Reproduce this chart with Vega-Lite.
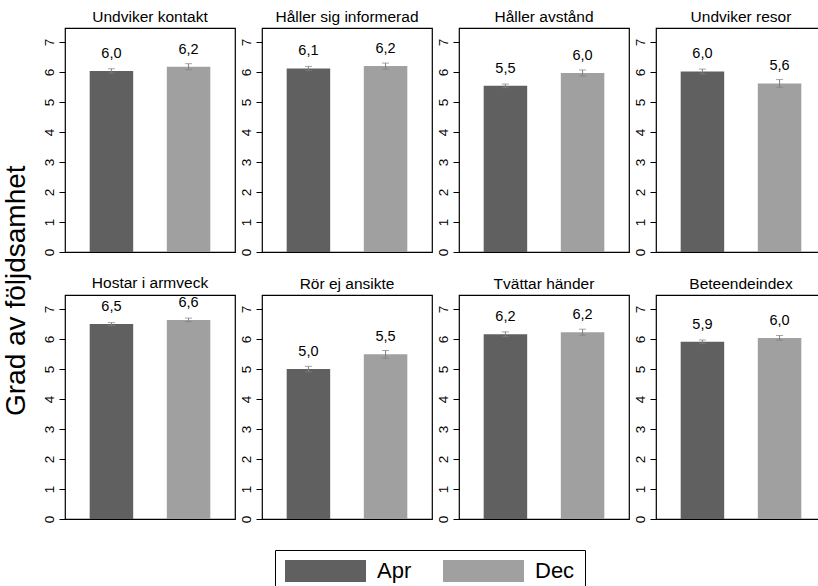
{
  "$schema": "https://vega.github.io/schema/vega-lite/v6.json",
  "padding": {"left": 3, "top": 8, "right": 0, "bottom": 0},
  "background": "white",
  "title": {"text": "Grad av följdsamhet", "orient": "left", "anchor": "middle", "fontSize": 28, "font": "Liberation Sans", "fontWeight": "normal", "color": "black", "offset": 10, "dx": 10},
  "config": {
    "locale": {"number": {"decimal": ",", "thousands": " ", "grouping": [3], "currency": ["", " kr"]}},
    "view": {"stroke": "black", "strokeWidth": 1.2},
    "font": "Liberation Sans"
  },
  "data": {"values": [
    {"panel": "Undviker kontakt", "series": "Apr", "value": 6.04, "err": 0.07},
    {"panel": "Undviker kontakt", "series": "Dec", "value": 6.18, "err": 0.1},
    {"panel": "Håller sig informerad", "series": "Apr", "value": 6.12, "err": 0.07},
    {"panel": "Håller sig informerad", "series": "Dec", "value": 6.2, "err": 0.1},
    {"panel": "Håller avstånd", "series": "Apr", "value": 5.54, "err": 0.06},
    {"panel": "Håller avstånd", "series": "Dec", "value": 5.97, "err": 0.1},
    {"panel": "Undviker resor", "series": "Apr", "value": 6.02, "err": 0.08},
    {"panel": "Undviker resor", "series": "Dec", "value": 5.62, "err": 0.13},
    {"panel": "Hostar i armveck", "series": "Apr", "value": 6.5, "err": 0.05},
    {"panel": "Hostar i armveck", "series": "Dec", "value": 6.64, "err": 0.06},
    {"panel": "Rör ej ansikte", "series": "Apr", "value": 5.0, "err": 0.09},
    {"panel": "Rör ej ansikte", "series": "Dec", "value": 5.49, "err": 0.13},
    {"panel": "Tvättar händer", "series": "Apr", "value": 6.16, "err": 0.08},
    {"panel": "Tvättar händer", "series": "Dec", "value": 6.23, "err": 0.1},
    {"panel": "Beteendeindex", "series": "Apr", "value": 5.91, "err": 0.06},
    {"panel": "Beteendeindex", "series": "Dec", "value": 6.04, "err": 0.08}
  ]},
  "facet": {
    "field": "panel", "type": "nominal",
    "sort": ["Undviker kontakt", "Håller sig informerad", "Håller avstånd", "Undviker resor", "Hostar i armveck", "Rör ej ansikte", "Tvättar händer", "Beteendeindex"],
    "header": {"title": null, "labelFontSize": 15.5, "labelFont": "Liberation Sans", "labelColor": "black", "labelPadding": 3}
  },
  "columns": 4,
  "spacing": {"row": 43, "column": 27},
  "bounds": "flush",
  "resolve": {"axis": {"y": "independent"}},
  "spec": {
    "width": 170,
    "height": 224,
    "encoding": {
      "x": {"field": "series", "type": "nominal", "sort": ["Apr", "Dec"], "axis": null,
            "scale": {"paddingInner": 0.436, "paddingOuter": 0.32}},
      "y": {"field": "value", "type": "quantitative",
            "scale": {"domain": [0, 7.47], "nice": false, "zero": true},
            "axis": {"title": null, "values": [0, 1, 2, 3, 4, 5, 6, 7], "grid": false, "domain": false,
                     "tickSize": 6, "tickColor": "black", "labelColor": "black", "labelFontSize": 13.5,
                     "labelFont": "Liberation Sans", "labelAngle": -90, "labelAlign": "center",
                     "labelBaseline": "bottom", "labelPadding": 3}}
    },
    "layer": [
      {
        "mark": {"type": "bar"},
        "encoding": {
          "color": {"field": "series", "type": "nominal",
                    "scale": {"domain": ["Apr", "Dec"], "range": ["#606060", "#a0a0a0"]},
                    "legend": {"title": null, "orient": "none", "direction": "horizontal",
                               "legendX": 210, "legendY": 522,
                               "symbolType": "M-1,-1H6.364V1H-1Z", "symbolSize": 484,
                               "symbolStrokeWidth": 0, "symbolOpacity": 1,
                               "labelOffset": 70, "labelFontSize": 22, "labelFont": "Liberation Sans",
                               "labelColor": "black", "columnPadding": 31,
                               "padding": 10, "strokeColor": "black", "fillColor": "white"}}
        }
      },
      {
        "mark": {"type": "errorbar", "rule": {"color": "#808080"}, "ticks": {"size": 7, "color": "#808080"}},
        "encoding": {"yError": {"field": "err"}}
      },
      {
        "mark": {"type": "text", "baseline": "alphabetic", "dy": -13, "fontSize": 14.5, "font": "Liberation Sans", "color": "black"},
        "encoding": {"text": {"field": "value", "type": "quantitative", "format": ".1f"}}
      }
    ]
  }
}
